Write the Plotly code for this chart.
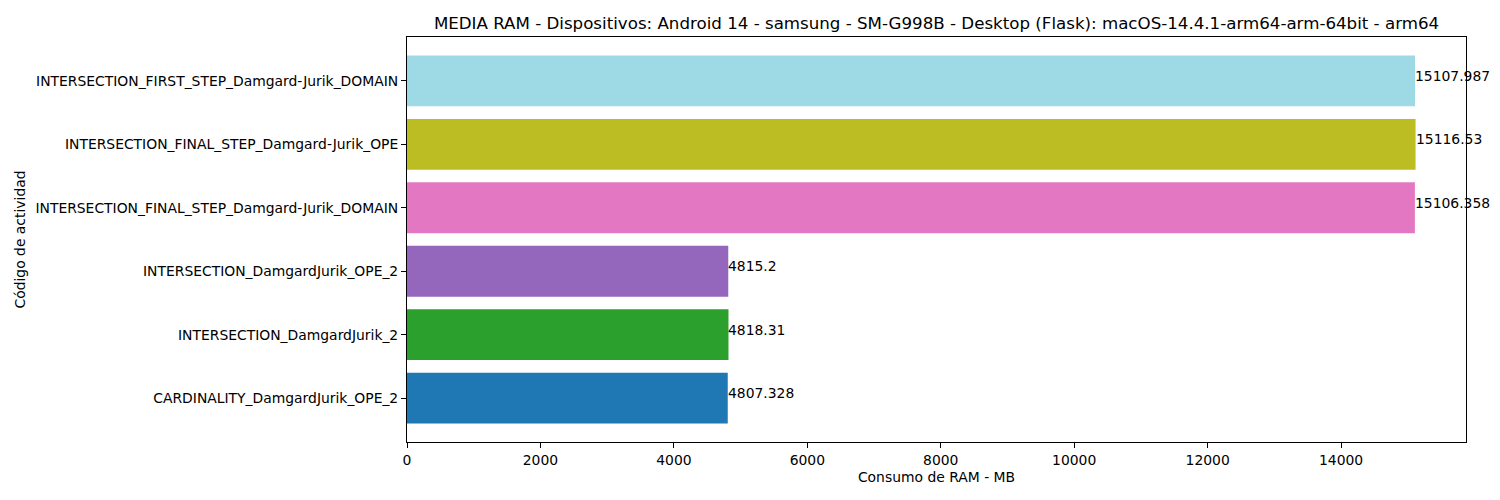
import plotly.graph_objects as go

categories = [
    "CARDINALITY_DamgardJurik_OPE_2",
    "INTERSECTION_DamgardJurik_2",
    "INTERSECTION_DamgardJurik_OPE_2",
    "INTERSECTION_FINAL_STEP_Damgard-Jurik_DOMAIN",
    "INTERSECTION_FINAL_STEP_Damgard-Jurik_OPE",
    "INTERSECTION_FIRST_STEP_Damgard-Jurik_DOMAIN",
]
values = [4807.328, 4818.31, 4815.2, 15106.358, 15116.53, 15107.987]
labels = ["4807.328", "4818.31", "4815.2", "15106.358", "15116.53", "15107.987"]
colors = ["#1f77b4", "#2ca02c", "#9467bd", "#e377c2", "#bcbd22", "#9edae5"]
xticks = [0, 2000, 4000, 6000, 8000, 10000, 12000, 14000]

FONT = "DejaVu Sans"
FS = 13.9
ypos = list(range(len(categories)))

W, H = 1492, 492  # page has an 8px body margin

fig = go.Figure()
fig.add_trace(go.Bar(
    x=values, y=ypos, orientation="h", width=0.8,
    marker=dict(color=colors, line=dict(width=0)),
    showlegend=False, hoverinfo="x+y",
))

for i, (v, t) in enumerate(zip(values, labels)):
    fig.add_annotation(x=v, y=i, text=t, xanchor="left", yanchor="bottom",
                       showarrow=False, xshift=-2, yshift=-5,
                       font=dict(family=FONT, size=FS, color="black"))

xmax = max(values) * 1.05
fig.update_layout(
    width=W, height=H,
    margin=dict(l=399, r=34, t=29, b=58),
    paper_bgcolor="white", plot_bgcolor="white",
    font=dict(family=FONT, size=FS, color="black"),
    title=dict(text="MEDIA RAM - Dispositivos: Android 14 - samsung - SM-G998B - Desktop (Flask): macOS-14.4.1-arm64-arm-64bit - arm64",
               x=(399 + 1458) / 2 / W, xanchor="center", y=1 - 15 / H, yanchor="middle",
               font=dict(family=FONT, size=16.67, color="black")),
    xaxis=dict(range=[0, xmax], tickvals=xticks, ticktext=[str(t) for t in xticks],
               showgrid=False, zeroline=False, showline=True, linecolor="black", linewidth=1,
               mirror=True, ticks="outside", ticklen=5, tickcolor="black",
               title=dict(text="Consumo de RAM - MB", standoff=5, font=dict(family=FONT, size=FS))),
    yaxis=dict(range=[-0.69, 5.69], tickvals=ypos, ticktext=categories,
               showgrid=False, zeroline=False, showline=True, linecolor="black", linewidth=1,
               mirror=True, ticks="outside", ticklen=5, tickcolor="black",
               title=dict(text="Código de actividad", standoff=6, font=dict(family=FONT, size=FS))),
)

fig.write_html("out.html")
